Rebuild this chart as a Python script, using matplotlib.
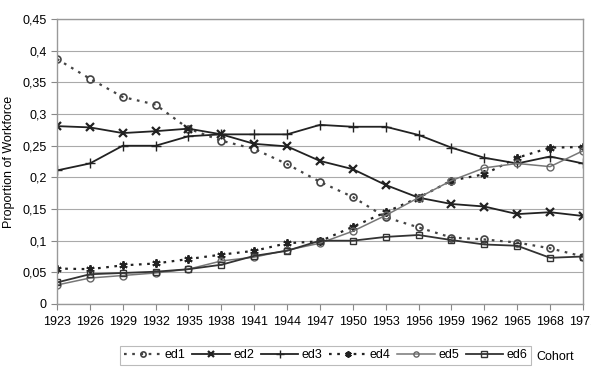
import numpy as np
import matplotlib.pyplot as plt

plt.rcParams['font.family'] = ['Liberation Sans', 'DejaVu Sans']

# cohort years and shares of workforce by education group
years = [1923, 1926, 1929, 1932, 1935, 1938, 1941, 1944, 1947, 1950,
         1953, 1956, 1959, 1962, 1965, 1968, 1971]
ed1 = [0.387, 0.356, 0.327, 0.315, 0.277, 0.258, 0.245, 0.221, 0.193, 0.169,
       0.137, 0.121, 0.105, 0.102, 0.097, 0.088, 0.075]
ed2 = [0.281, 0.279, 0.270, 0.273, 0.277, 0.268, 0.253, 0.249, 0.226, 0.213,
       0.188, 0.168, 0.158, 0.154, 0.142, 0.145, 0.139]
ed3 = [0.211, 0.222, 0.250, 0.250, 0.265, 0.268, 0.268, 0.268, 0.283, 0.280,
       0.280, 0.267, 0.247, 0.231, 0.222, 0.233, 0.222]
ed4 = [0.056, 0.055, 0.061, 0.064, 0.071, 0.078, 0.084, 0.096, 0.099, 0.122,
       0.145, 0.168, 0.195, 0.205, 0.231, 0.247, 0.248]
ed5 = [0.030, 0.041, 0.045, 0.049, 0.055, 0.068, 0.074, 0.085, 0.096, 0.115,
       0.140, 0.168, 0.195, 0.215, 0.222, 0.217, 0.242]
ed6 = [0.034, 0.047, 0.049, 0.051, 0.055, 0.062, 0.076, 0.084, 0.100, 0.100,
       0.106, 0.109, 0.101, 0.094, 0.092, 0.073, 0.075]

fig = plt.figure(figsize=(5.91, 3.83), dpi=100)
ax = fig.add_axes([0.0964, 0.2063, 0.89, 0.7437])

x = np.arange(len(years))
ax.plot(x, ed1, color='#444444', ls=(0, (1.2, 2.5)), lw=1.6, marker='o', ms=5,
        mfc='none', mec='#444444', mew=1.2, label='ed1')
ax.plot(x, ed2, color='#222222', lw=1.3, marker='x', ms=6, mew=1.6, label='ed2')
ax.plot(x, ed3, color='#222222', lw=1.3, marker='+', ms=7, mew=1.0, label='ed3')
ax.plot(x, ed4, color='#222222', ls=(0, (1.2, 2.5)), lw=1.6, marker=(6, 2, 0), ms=6,
        mew=1.4, label='ed4')
ax.plot(x, ed5, color='#777777', lw=1.1, marker='o', ms=5, mfc='none',
        mec='#666666', mew=1.0, label='ed5')
ax.plot(x, ed6, color='#333333', lw=1.3, marker='s', ms=5, mfc='none',
        mec='#333333', mew=1.0, label='ed6')

ax.set_xlim(0, len(years) - 1)
ax.set_ylim(0, 0.45)
ax.set_xticks(x)
ax.set_xticklabels([str(y) for y in years], fontsize=9)
yt = np.arange(0, 0.451, 0.05)
ax.set_yticks(yt)
ax.set_yticklabels(['0'] + [('%g' % v).replace('.', ',') for v in yt[1:]], fontsize=9)
ax.tick_params(axis='both', direction='out', length=4, color='#888888', width=0.8)
ax.tick_params(axis='x', pad=5)
ax.grid(axis='y', color='#aaaaaa', lw=0.8)
ax.set_axisbelow(True)
for s in ax.spines.values():
    s.set_color('#999999')
    s.set_linewidth(1.0)
ax.set_ylabel('Proportion of Workforce', fontsize=9)
ax.yaxis.set_label_coords(-0.08, 0.5)

leg = fig.legend(loc='center', bbox_to_anchor=(0.551, 0.072), ncol=6, fontsize=9,
                 frameon=True, fancybox=False, handlelength=3.0, handletextpad=0.25,
                 columnspacing=0.55, borderpad=0.3, borderaxespad=0.2,
                 markerscale=0.75, edgecolor='#aaaaaa')
leg.get_frame().set_linewidth(0.8)
fig.text(0.908, 0.067, 'Cohort', fontsize=9, va='center', ha='left')

fig.savefig('out.png', dpi=100)
